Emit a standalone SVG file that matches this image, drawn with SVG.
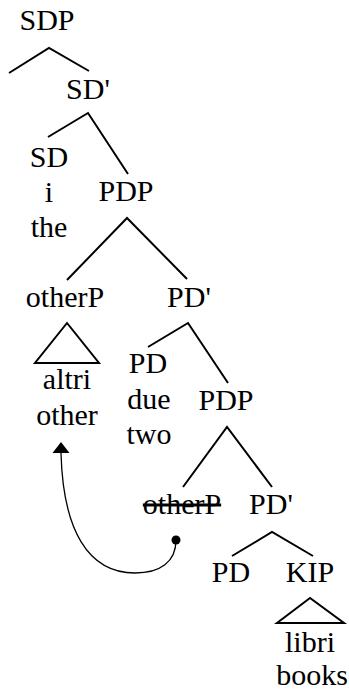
<svg xmlns="http://www.w3.org/2000/svg" width="349" height="690" viewBox="0 0 349 690">
<style>
text{font-family:'Liberation Serif','DejaVu Serif',serif;font-size:30px;fill:#000;text-anchor:middle}
.e{fill:none;stroke:#000;stroke-width:2;stroke-linecap:butt}
.tri{fill:none;stroke:#000;stroke-width:2;stroke-linejoin:miter}
.mv{fill:none;stroke:#000;stroke-width:1.3}
</style>
<rect width="349" height="690" fill="#fff"/>
<g id="connectors">
<polyline class="e" points="9,73 49,48 89,71"/>
<polyline class="e" points="48,137 88,113 128,174"/>
<polyline class="e" points="67,280 127,218 187,279"/>
<polyline class="e" points="148,347 188,323 228,383"/>
<polyline class="e" points="183,487 227,427 272,487"/>
<polyline class="e" points="232,556 272,532 313,556"/>
<polygon class="tri" points="67,323 35,363 99,363"/>
<polygon class="tri" points="310,598 277,623 344,623"/>
<path class="mv" d="M176,540 C176,562 160,573 135,573 C88,573 63,530 61,453"/>
<path d="M61,442 L69.5,453 L52.5,453 Z" fill="#000"/>
<circle cx="176" cy="540" r="4.5" fill="#000"/>
</g>
<g id="n-SDP"><text x="47" y="30">SDP</text></g>
<g id="n-SDbar"><text x="88" y="99">SD'</text></g>
<g id="n-SD"><text x="49" y="167">SD</text><text x="49" y="202">i</text><text x="49" y="237">the</text></g>
<g id="n-PDP1"><text x="126" y="201">PDP</text></g>
<g id="n-otherP1"><text x="65" y="307">otherP</text></g>
<g id="n-altri"><text x="67" y="389">altri</text><text x="67" y="425">other</text></g>
<g id="n-PDbar1"><text x="189" y="307">PD'</text></g>
<g id="n-PD1"><text x="148" y="373">PD</text><text x="149" y="409">due</text><text x="149" y="444">two</text></g>
<g id="n-PDP2"><text x="226" y="410">PDP</text></g>
<g id="n-otherP2"><text x="182" y="514" text-decoration="line-through">otherP</text></g>
<g id="n-PDbar2"><text x="271" y="514">PD'</text></g>
<g id="n-PD2"><text x="231" y="582">PD</text></g>
<g id="n-KIP"><text x="310" y="582">KIP</text></g>
<g id="n-libri"><text x="310" y="652">libri</text><text x="312" y="685">books</text></g>
</svg>
